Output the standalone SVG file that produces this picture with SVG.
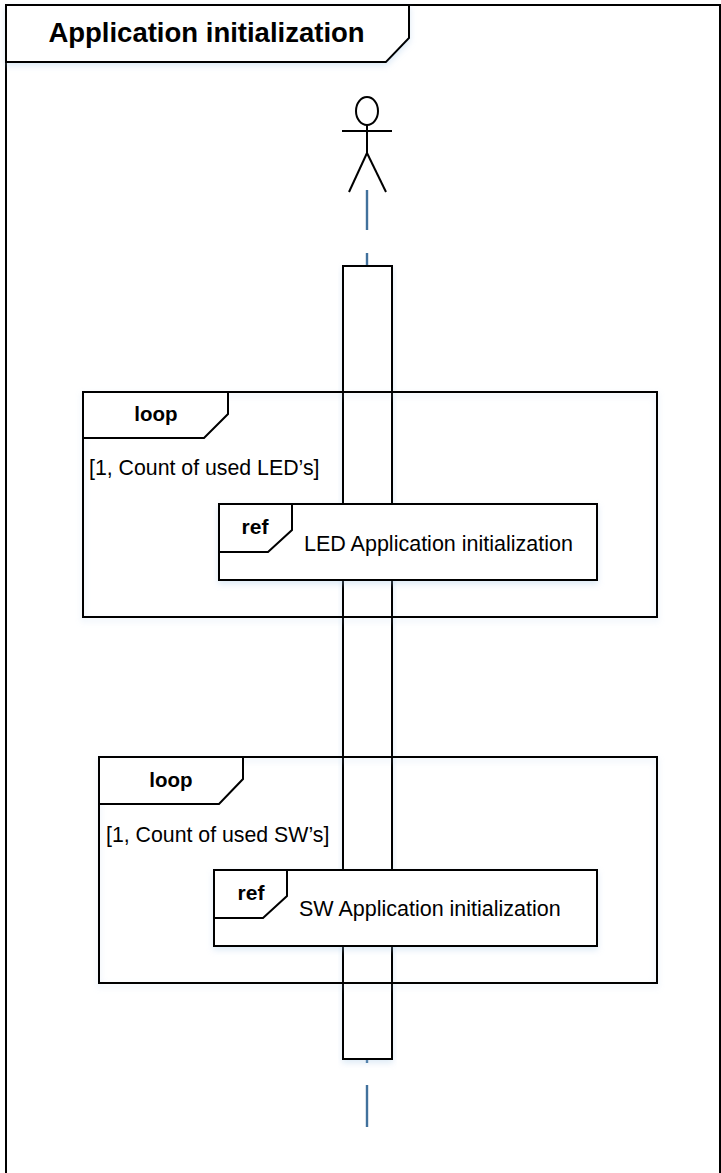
<svg xmlns="http://www.w3.org/2000/svg" width="721" height="1173" viewBox="0 0 721 1173">
<style>
.ln{fill:none;stroke:#000;stroke-width:2}
.bx{fill:#fff;stroke:#000;stroke-width:2}
.fr{fill:none;stroke:#000;stroke-width:2}
.t{font-family:"Liberation Sans",Arial,sans-serif;fill:#000}
.b{font-weight:bold}
.life{stroke:#41719C;stroke-width:2.4;fill:none}
.sh{filter:url(#glow)}
</style>
<defs>
<filter id="glow" x="-10%" y="-10%" width="120%" height="130%">
<feDropShadow dx="0" dy="3" stdDeviation="3" flood-color="#9dc3e6" flood-opacity="0.35"/>
</filter>
</defs>
<rect width="721" height="1173" fill="#fff"/>

<g id="frame">
<rect class="fr" x="6" y="5" width="714" height="1180"/>
<path class="bx sh" d="M6,5 H409 V38 L386,62 H6 Z"/>
<text class="t b" x="206.5" y="41.5" font-size="27.5" text-anchor="middle">Application initialization</text>
</g>

<g id="actor" class="ln">
<ellipse cx="367" cy="111" rx="11" ry="14"/>
<line x1="342" y1="131" x2="392" y2="131"/>
<line x1="367" y1="125" x2="367" y2="153"/>
<line x1="367" y1="153" x2="349" y2="192"/>
<line x1="367" y1="153" x2="386" y2="192"/>
</g>

<g id="connectors">
<line class="life" x1="367" y1="190" x2="367" y2="230"/>
<line class="life" x1="367" y1="253" x2="367" y2="266"/>
<line class="life" x1="367" y1="1059" x2="367" y2="1063"/>
<line class="life" x1="367" y1="1085" x2="367" y2="1127"/>
</g>

<g id="activation">
<rect class="bx sh" x="343" y="266" width="49" height="793"/>
</g>

<g id="loop1">
<rect class="fr sh" x="83" y="392" width="574" height="225"/>
<path class="bx" d="M83,392 H228 V414 L204,438 H83 Z"/>
<text class="t b" x="156" y="421" font-size="20.5" text-anchor="middle">loop</text>
<text class="t" x="89" y="475" font-size="21.3">[1, Count of used LED’s]</text>
</g>

<g id="ref1">
<rect class="bx sh" x="219" y="504" width="378" height="76"/>
<path class="bx" d="M219,504 H292 V530 L268,552 H219 Z"/>
<text class="t b" x="255" y="534" font-size="21" text-anchor="middle">ref</text>
<text class="t" x="304" y="551" font-size="21.5">LED Application initialization</text>
</g>

<g id="loop2">
<rect class="fr sh" x="99" y="757" width="558" height="226"/>
<path class="bx" d="M99,757 H243 V779 L219,804 H99 Z"/>
<text class="t b" x="171" y="787" font-size="20.5" text-anchor="middle">loop</text>
<text class="t" x="106" y="842" font-size="21.3">[1, Count of used SW’s]</text>
</g>

<g id="ref2">
<rect class="bx sh" x="214" y="870" width="383" height="76"/>
<path class="bx" d="M214,870 H287 V896 L263,918 H214 Z"/>
<text class="t b" x="251" y="900" font-size="21" text-anchor="middle">ref</text>
<text class="t" x="299" y="916" font-size="21.5">SW Application initialization</text>
</g>
</svg>
